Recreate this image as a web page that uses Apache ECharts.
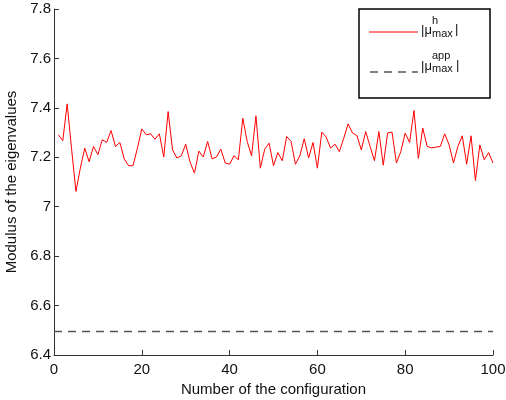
<!DOCTYPE html>
<html>
<head>
<meta charset="utf-8">
<script src="https://cdn.jsdelivr.net/npm/echarts@6/dist/echarts.min.js"></script>
<style>html,body{margin:0;padding:0;background:#fff}#c{width:506px;height:400px}</style>
</head>
<body>
<div id="c"></div>
<script>
// Configuration numbers 1..100
const configs = [];
for (let i = 1; i <= 100; i++) configs.push(i);
// |mu^h_max| values
const muH = [
  7.291, 7.267, 7.416, 7.235, 7.062, 7.156, 7.237, 7.182, 7.244, 7.211,
  7.271, 7.260, 7.308, 7.244, 7.260, 7.193, 7.166, 7.166, 7.237, 7.315,
  7.291, 7.295, 7.273, 7.295, 7.201, 7.385, 7.230, 7.197, 7.206, 7.253,
  7.180, 7.136, 7.225, 7.201, 7.264, 7.194, 7.201, 7.233, 7.177, 7.172,
  7.206, 7.190, 7.358, 7.264, 7.206, 7.368, 7.156, 7.233, 7.257, 7.166,
  7.219, 7.186, 7.284, 7.264, 7.172, 7.206, 7.275, 7.197, 7.260, 7.156,
  7.302, 7.282, 7.237, 7.253, 7.223, 7.277, 7.335, 7.298, 7.288, 7.230,
  7.304, 7.244, 7.186, 7.304, 7.168, 7.298, 7.302, 7.177, 7.223, 7.298,
  7.260, 7.389, 7.195, 7.318, 7.244, 7.238, 7.241, 7.244, 7.295, 7.250,
  7.177, 7.244, 7.287, 7.172, 7.287, 7.106, 7.250, 7.190, 7.219, 7.177
];
// |mu^app_max| : constant level, at the two ends
const appX = [0, 100];
const appY = [6.495, 6.495];
const xTicks = { min: 0, max: 100, interval: 20 };
const yTicks = { min: 6.4, max: 7.8, interval: 0.2 };

const font = 'Liberation Sans, Arial, Helvetica, sans-serif';
const chart = echarts.init(document.getElementById('c'), null, { renderer: 'canvas' });
chart.setOption({
  animation: false,
  backgroundColor: '#fff',
  grid: { left: 54, right: 13, top: 9, bottom: 45, containLabel: false, outerBoundsMode: 'none' },
  xAxis: {
    type: 'value', min: xTicks.min, max: xTicks.max, interval: xTicks.interval,
    name: 'Number of the configuration', nameLocation: 'middle', nameGap: 22,
    nameTextStyle: { fontFamily: font, fontSize: 15, color: '#111' },
    axisLine: { lineStyle: { color: '#333', width: 1 } },
    axisTick: { inside: true, length: 5, lineStyle: { color: '#333' } },
    axisLabel: { fontFamily: font, fontSize: 15, color: '#111', margin: 7 },
    splitLine: { show: false }
  },
  yAxis: {
    type: 'value', min: yTicks.min, max: yTicks.max, interval: yTicks.interval,
    name: 'Modulus of the eigenvalues', nameLocation: 'middle', nameGap: 30,
    nameTextStyle: { fontFamily: font, fontSize: 15, color: '#111' },
    axisLine: { show: true, lineStyle: { color: '#333', width: 1 } },
    axisTick: { show: true, inside: true, length: 5, lineStyle: { color: '#333' } },
    axisLabel: { fontFamily: font, fontSize: 15, color: '#111', margin: 3,
      formatter: v => String(Math.round(v * 10) / 10) },
    splitLine: { show: false }
  },
  series: [
    {
      name: '|μ^h_max|', type: 'line', showSymbol: false, symbol: 'none',
      data: configs.map((c, i) => [c, muH[i]]),
      lineStyle: { color: '#ff0000', width: 1 }
    },
    {
      name: '|μ^app_max|', type: 'line', showSymbol: false, symbol: 'none',
      data: appX.map((x, i) => [x, appY[i]]),
      lineStyle: { color: '#555', width: 1.5, type: [8, 6] }
    }
  ],
  graphic: [
    { type: 'rect', shape: { x: 359, y: 9, width: 131, height: 89 },
      style: { fill: '#fff', stroke: '#000', lineWidth: 1.5 }, z: 100 },
    { type: 'line', shape: { x1: 369, y1: 32, x2: 418, y2: 32 },
      style: { stroke: '#ff0000', lineWidth: 1 }, z: 101 },
    { type: 'line', shape: { x1: 370, y1: 72, x2: 418, y2: 72 },
      style: { stroke: '#555', lineWidth: 1.5, lineDash: [8, 6] }, z: 101 },
    { type: 'text', x: 421, y: 30, z: 101, style: { text: '|μ', font: '13px ' + font, fill: '#111', verticalAlign: 'middle' } },
    { type: 'text', x: 432, y: 21, z: 101, style: { text: 'h', font: '11px ' + font, fill: '#111', verticalAlign: 'middle' } },
    { type: 'text', x: 432, y: 34, z: 101, style: { text: 'max', font: '11px ' + font, fill: '#111', verticalAlign: 'middle' } },
    { type: 'text', x: 455, y: 29, z: 101, style: { text: '|', font: '13px ' + font, fill: '#111', verticalAlign: 'middle' } },
    { type: 'text', x: 421, y: 66, z: 101, style: { text: '|μ', font: '13px ' + font, fill: '#111', verticalAlign: 'middle' } },
    { type: 'text', x: 432, y: 56, z: 101, style: { text: 'app', font: '11px ' + font, fill: '#111', verticalAlign: 'middle' } },
    { type: 'text', x: 432, y: 69, z: 101, style: { text: 'max', font: '11px ' + font, fill: '#111', verticalAlign: 'middle' } },
    { type: 'text', x: 456, y: 65, z: 101, style: { text: '|', font: '13px ' + font, fill: '#111', verticalAlign: 'middle' } }
  ]
});
</script>
</body>
</html>
